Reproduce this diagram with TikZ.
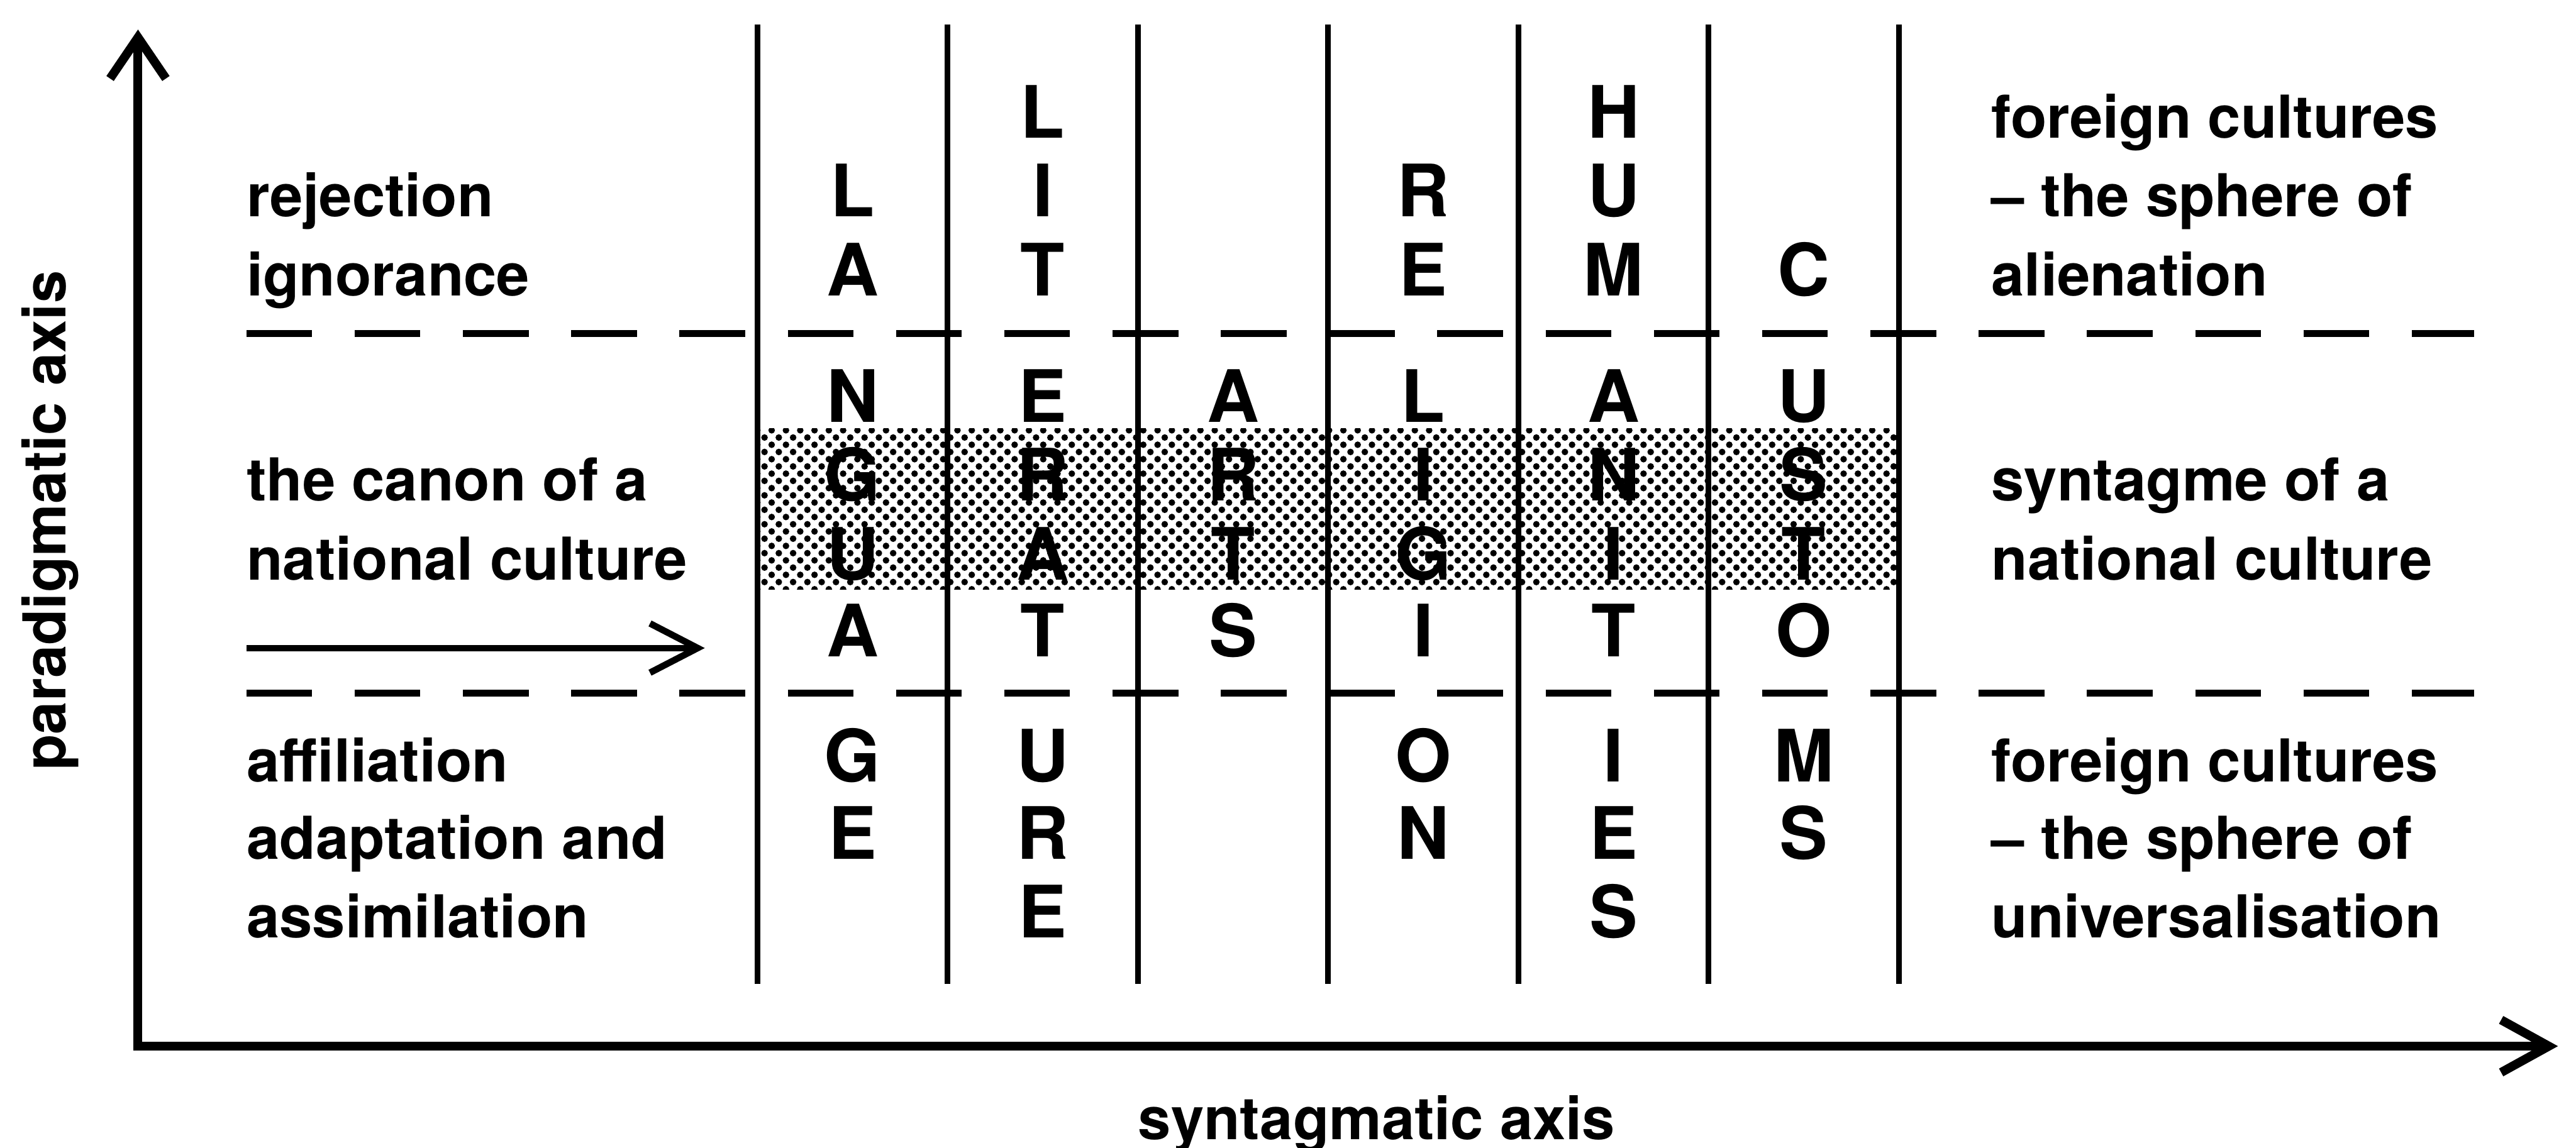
\documentclass[tikz,border=0pt]{standalone}
\usepackage{fontspec}
\setmainfont{TeX Gyre Heros}
\usetikzlibrary{arrows.meta}
\tikzset{
  txt/.style={anchor=base west, inner sep=0pt, font=\bfseries\fontsize{36}{36}\selectfont},
  lbl/.style={anchor=base, inner sep=0pt, font=\bfseries\fontsize{36}{36}\selectfont},
  capl/.style={anchor=base, inner sep=0pt, font=\bfseries\fontsize{44}{44}\selectfont},
  axisline/.style={line width=5.4pt, line join=miter},
  gridline/.style={line width=3.4pt},
  dashln/.style={line width=4pt, dash pattern=on 40pt off 25.9pt},
  smallarrow/.style={line width=4pt, -{Straight Barb[length=29pt,width=30pt,line width=4pt]}},
}
\begin{document}
\begin{tikzpicture}[x=1pt,y=-1pt]
\useasboundingbox (0,0) rectangle (1568,699);
% shaded band (dot screen)
\begin{scope}
  \clip (461,261) rectangle (1156,359);
  \foreach \j in {0,...,22}{
    \foreach \i in {0,...,80}{
      \fill ({461+\i*8.7+mod(\j,2)*4.35},{262+\j*4.4}) circle (2pt);
    }
  }
\end{scope}
% vertical column lines
\foreach \k in {0,...,6}{
  \pgfmathsetmacro\xv{461+115.8*\k}
  \coordinate (vt\k) at (\xv,15);
  \coordinate (vb\k) at (\xv,599);
  \draw[gridline] (vt\k) -- (vb\k);
}
% dashed horizontal lines
\coordinate (d1a) at (150,203); \coordinate (d1b) at (1506,203);
\coordinate (d2a) at (150,422); \coordinate (d2b) at (1506,422);
\draw[dashln] (d1a) -- (d1b);
\draw[dashln] (d2a) -- (d2b);
% axes
\coordinate (ytop) at (84,18);
\coordinate (O) at (84,637);
\coordinate (xend) at (1557,637);
\draw[axisline, {Straight Barb[length=25pt,width=34pt,line width=5.4pt]}-{Straight Barb[length=29pt,width=32pt,line width=5.4pt]}] (ytop) -- (O) -- (xend);
% small arrow
\coordinate (sa) at (150,394.6);
\coordinate (sb) at (429,394.6);
\draw[smallarrow] (sa) -- (sb);
% column letters
\def\rowY{{84,132,180,257,305,353,400,476,523,571}}
\foreach \k/\lst/\s in {0/{L,A,N,G,U,A,G,E}/2, 1/{L,I,T,E,R,A,T,U,R,E}/1, 2/{A,R,T,S}/4, 3/{R,E,L,I,G,I,O,N}/2, 4/{H,U,M,A,N,I,T,I,E,S}/1, 5/{C,U,S,T,O,M,S}/3}{
  \pgfmathsetmacro\xx{461+115.8*(\k+0.5)}
  \foreach \ch [count=\n from \s] in \lst {
    \pgfmathsetmacro\yy{\rowY[\n-1]}
    \node[capl] (c\k-\n) at (\xx,\yy) {\ch};
  }
}
% left texts
\node[txt] (lt1) at (150,132) {rejection};
\node[txt] (lt2) at (150,180) {ignorance};
\node[txt] (lm1) at (150,305) {the canon of a};
\node[txt] (lm2) at (150,353) {national culture};
\node[txt] (lb1) at (150,476) {affiliation};
\node[txt] (lb2) at (150,523) {adaptation and};
\node[txt] (lb3) at (150,571) {assimilation};
% right texts
\node[txt] (rt1) at (1212,84) {foreign cultures};
\node[txt] (rt2) at (1212,132) {– the sphere of};
\node[txt] (rt3) at (1212,180) {alienation};
\node[txt] (rm1) at (1212,305) {syntagme of a};
\node[txt] (rm2) at (1212,353) {national culture};
\node[txt] (rb1) at (1212,476) {foreign cultures};
\node[txt] (rb2) at (1212,523) {– the sphere of};
\node[txt] (rb3) at (1212,571) {universalisation};
% axis labels
\node[lbl, rotate=90] (ylab) at (40,317) {paradigmatic axis};
\node[lbl] (xlab) at (838,694) {syntagmatic axis};
\end{tikzpicture}
\end{document}
